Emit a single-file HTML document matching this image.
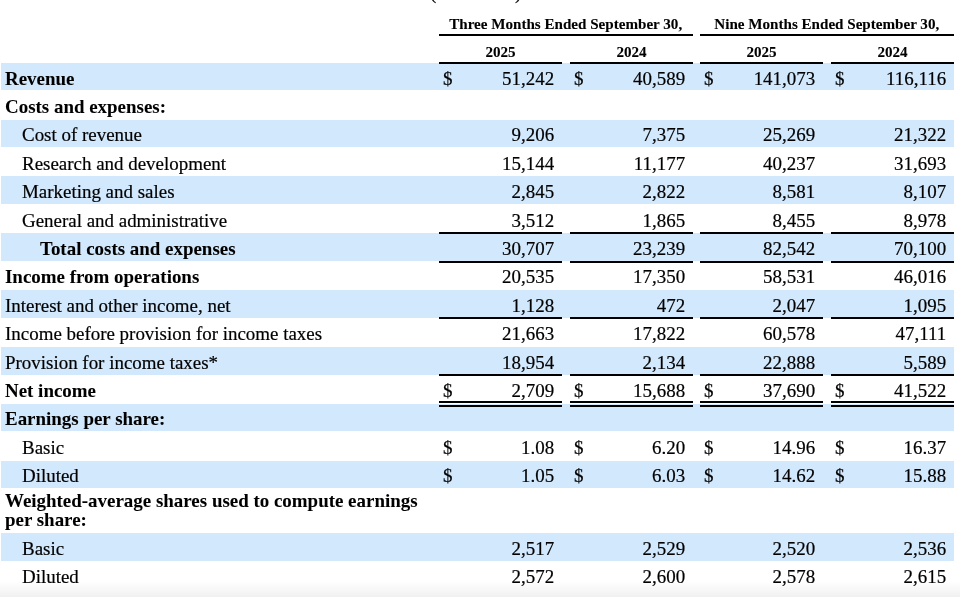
<!DOCTYPE html>
<html><head><meta charset="utf-8"><style>
html,body{margin:0;padding:0;background:#fff;}
body{width:960px;height:597px;position:relative;overflow:hidden;font-family:"Liberation Serif",serif;color:#000;}
.t{will-change:transform;-webkit-text-stroke:0.2px #000;position:absolute;white-space:nowrap;font-size:18.95px;line-height:20px;height:20px;}
.b{font-weight:bold;-webkit-text-stroke:0.05px #000;}
.r{text-align:right;}
.c{text-align:center;}
.band{position:absolute;background:#d2e8fc;}
.ln{position:absolute;background:#000;}
.h{will-change:transform;-webkit-text-stroke:0.1px #000;position:absolute;white-space:nowrap;font-size:15.1px;line-height:18px;height:18px;font-weight:bold;text-align:center;}
</style></head><body>

<div class="band" style="left:1px;top:62.8px;width:953px;height:27.5px"></div>
<div class="band" style="left:1px;top:119.64px;width:953px;height:27.5px"></div>
<div class="band" style="left:1px;top:176.48px;width:953px;height:27.5px"></div>
<div class="band" style="left:1px;top:233.32px;width:953px;height:27.5px"></div>
<div class="band" style="left:1px;top:290.16px;width:953px;height:27.5px"></div>
<div class="band" style="left:1px;top:347px;width:953px;height:27.5px"></div>
<div class="band" style="left:1px;top:403.84px;width:953px;height:27.5px"></div>
<div class="band" style="left:1px;top:460.68px;width:953px;height:27.5px"></div>
<div class="band" style="left:1px;top:532.8px;width:953px;height:27.8px"></div>
<div class="h" style="left:439.2px;width:253.4px;top:14.5px">Three Months Ended September 30,</div>
<div class="ln" style="left:439.2px;width:253.4px;top:33.5px;height:2px"></div>
<div class="h" style="left:700.2px;width:253.55px;top:14.5px">Nine Months Ended September 30,</div>
<div class="ln" style="left:700.2px;width:253.55px;top:33.5px;height:2px"></div>
<div class="h" style="left:439.2px;width:123px;top:42.7px">2025</div>
<div class="ln" style="left:439.2px;width:123px;top:62px;height:2px"></div>
<div class="h" style="left:569.7px;width:123px;top:42.7px">2024</div>
<div class="ln" style="left:569.7px;width:123px;top:62px;height:2px"></div>
<div class="h" style="left:700.2px;width:123px;top:42.7px">2025</div>
<div class="ln" style="left:700.2px;width:123px;top:62px;height:2px"></div>
<div class="h" style="left:830.5px;width:123px;top:42.7px">2024</div>
<div class="ln" style="left:830.5px;width:123px;top:62px;height:2px"></div>
<div class="t b" style="left:5px;top:68.7px">Revenue</div>
<div class="t" style="left:443.3px;top:68.7px">$</div>
<div class="t r" style="left:439.2px;width:115.2px;top:68.7px">51,242</div>
<div class="t" style="left:573.8px;top:68.7px">$</div>
<div class="t r" style="left:569.7px;width:115.2px;top:68.7px">40,589</div>
<div class="t" style="left:704.3px;top:68.7px">$</div>
<div class="t r" style="left:700.2px;width:115.2px;top:68.7px">141,073</div>
<div class="t" style="left:834.6px;top:68.7px">$</div>
<div class="t r" style="left:830.5px;width:115.2px;top:68.7px">116,116</div>
<div class="t b" style="left:5px;top:97.08px">Costs and expenses:</div>
<div class="t" style="left:22.4px;top:125.46px">Cost of revenue</div>
<div class="t r" style="left:439.2px;width:115.2px;top:125.46px">9,206</div>
<div class="t r" style="left:569.7px;width:115.2px;top:125.46px">7,375</div>
<div class="t r" style="left:700.2px;width:115.2px;top:125.46px">25,269</div>
<div class="t r" style="left:830.5px;width:115.2px;top:125.46px">21,322</div>
<div class="t" style="left:22.4px;top:153.84px">Research and development</div>
<div class="t r" style="left:439.2px;width:115.2px;top:153.84px">15,144</div>
<div class="t r" style="left:569.7px;width:115.2px;top:153.84px">11,177</div>
<div class="t r" style="left:700.2px;width:115.2px;top:153.84px">40,237</div>
<div class="t r" style="left:830.5px;width:115.2px;top:153.84px">31,693</div>
<div class="t" style="left:22.4px;top:182.22px">Marketing and sales</div>
<div class="t r" style="left:439.2px;width:115.2px;top:182.22px">2,845</div>
<div class="t r" style="left:569.7px;width:115.2px;top:182.22px">2,822</div>
<div class="t r" style="left:700.2px;width:115.2px;top:182.22px">8,581</div>
<div class="t r" style="left:830.5px;width:115.2px;top:182.22px">8,107</div>
<div class="t" style="left:22.4px;top:210.6px">General and administrative</div>
<div class="t r" style="left:439.2px;width:115.2px;top:210.6px">3,512</div>
<div class="t r" style="left:569.7px;width:115.2px;top:210.6px">1,865</div>
<div class="t r" style="left:700.2px;width:115.2px;top:210.6px">8,455</div>
<div class="t r" style="left:830.5px;width:115.2px;top:210.6px">8,978</div>
<div class="ln" style="left:439.2px;width:123px;top:232.18px;height:2px"></div>
<div class="ln" style="left:569.7px;width:123px;top:232.18px;height:2px"></div>
<div class="ln" style="left:700.2px;width:123px;top:232.18px;height:2px"></div>
<div class="ln" style="left:830.5px;width:123px;top:232.18px;height:2px"></div>
<div class="t b" style="left:40px;top:238.98px">Total costs and expenses</div>
<div class="t r" style="left:439.2px;width:115.2px;top:238.98px">30,707</div>
<div class="t r" style="left:569.7px;width:115.2px;top:238.98px">23,239</div>
<div class="t r" style="left:700.2px;width:115.2px;top:238.98px">82,542</div>
<div class="t r" style="left:830.5px;width:115.2px;top:238.98px">70,100</div>
<div class="ln" style="left:439.2px;width:123px;top:260.56px;height:2px"></div>
<div class="ln" style="left:569.7px;width:123px;top:260.56px;height:2px"></div>
<div class="ln" style="left:700.2px;width:123px;top:260.56px;height:2px"></div>
<div class="ln" style="left:830.5px;width:123px;top:260.56px;height:2px"></div>
<div class="t b" style="left:5px;top:267.36px">Income from operations</div>
<div class="t r" style="left:439.2px;width:115.2px;top:267.36px">20,535</div>
<div class="t r" style="left:569.7px;width:115.2px;top:267.36px">17,350</div>
<div class="t r" style="left:700.2px;width:115.2px;top:267.36px">58,531</div>
<div class="t r" style="left:830.5px;width:115.2px;top:267.36px">46,016</div>
<div class="t" style="left:5px;top:295.74px">Interest and other income, net</div>
<div class="t r" style="left:439.2px;width:115.2px;top:295.74px">1,128</div>
<div class="t r" style="left:569.7px;width:115.2px;top:295.74px">472</div>
<div class="t r" style="left:700.2px;width:115.2px;top:295.74px">2,047</div>
<div class="t r" style="left:830.5px;width:115.2px;top:295.74px">1,095</div>
<div class="ln" style="left:439.2px;width:123px;top:317.32px;height:2px"></div>
<div class="ln" style="left:569.7px;width:123px;top:317.32px;height:2px"></div>
<div class="ln" style="left:700.2px;width:123px;top:317.32px;height:2px"></div>
<div class="ln" style="left:830.5px;width:123px;top:317.32px;height:2px"></div>
<div class="t" style="left:5px;top:324.12px">Income before provision for income taxes</div>
<div class="t r" style="left:439.2px;width:115.2px;top:324.12px">21,663</div>
<div class="t r" style="left:569.7px;width:115.2px;top:324.12px">17,822</div>
<div class="t r" style="left:700.2px;width:115.2px;top:324.12px">60,578</div>
<div class="t r" style="left:830.5px;width:115.2px;top:324.12px">47,111</div>
<div class="t" style="left:5px;top:352.5px">Provision for income taxes*</div>
<div class="t r" style="left:439.2px;width:115.2px;top:352.5px">18,954</div>
<div class="t r" style="left:569.7px;width:115.2px;top:352.5px">2,134</div>
<div class="t r" style="left:700.2px;width:115.2px;top:352.5px">22,888</div>
<div class="t r" style="left:830.5px;width:115.2px;top:352.5px">5,589</div>
<div class="ln" style="left:439.2px;width:123px;top:374.08px;height:2px"></div>
<div class="ln" style="left:569.7px;width:123px;top:374.08px;height:2px"></div>
<div class="ln" style="left:700.2px;width:123px;top:374.08px;height:2px"></div>
<div class="ln" style="left:830.5px;width:123px;top:374.08px;height:2px"></div>
<div class="t b" style="left:5px;top:380.88px">Net income</div>
<div class="t" style="left:443.3px;top:380.88px">$</div>
<div class="t r" style="left:439.2px;width:115.2px;top:380.88px">2,709</div>
<div class="t" style="left:573.8px;top:380.88px">$</div>
<div class="t r" style="left:569.7px;width:115.2px;top:380.88px">15,688</div>
<div class="t" style="left:704.3px;top:380.88px">$</div>
<div class="t r" style="left:700.2px;width:115.2px;top:380.88px">37,690</div>
<div class="t" style="left:834.6px;top:380.88px">$</div>
<div class="t r" style="left:830.5px;width:115.2px;top:380.88px">41,522</div>
<div class="ln" style="left:439.2px;width:123px;top:401.01px;height:1.5px"></div>
<div class="ln" style="left:439.2px;width:123px;top:405px;height:2px"></div>
<div class="ln" style="left:569.7px;width:123px;top:401.01px;height:1.5px"></div>
<div class="ln" style="left:569.7px;width:123px;top:405px;height:2px"></div>
<div class="ln" style="left:700.2px;width:123px;top:401.01px;height:1.5px"></div>
<div class="ln" style="left:700.2px;width:123px;top:405px;height:2px"></div>
<div class="ln" style="left:830.5px;width:123px;top:401.01px;height:1.5px"></div>
<div class="ln" style="left:830.5px;width:123px;top:405px;height:2px"></div>
<div class="t b" style="left:5px;top:409.26px">Earnings per share:</div>
<div class="t" style="left:22.4px;top:437.64px">Basic</div>
<div class="t" style="left:443.3px;top:437.64px">$</div>
<div class="t r" style="left:439.2px;width:115.2px;top:437.64px">1.08</div>
<div class="t" style="left:573.8px;top:437.64px">$</div>
<div class="t r" style="left:569.7px;width:115.2px;top:437.64px">6.20</div>
<div class="t" style="left:704.3px;top:437.64px">$</div>
<div class="t r" style="left:700.2px;width:115.2px;top:437.64px">14.96</div>
<div class="t" style="left:834.6px;top:437.64px">$</div>
<div class="t r" style="left:830.5px;width:115.2px;top:437.64px">16.37</div>
<div class="t" style="left:22.4px;top:466.02px">Diluted</div>
<div class="t" style="left:443.3px;top:466.02px">$</div>
<div class="t r" style="left:439.2px;width:115.2px;top:466.02px">1.05</div>
<div class="t" style="left:573.8px;top:466.02px">$</div>
<div class="t r" style="left:569.7px;width:115.2px;top:466.02px">6.03</div>
<div class="t" style="left:704.3px;top:466.02px">$</div>
<div class="t r" style="left:700.2px;width:115.2px;top:466.02px">14.62</div>
<div class="t" style="left:834.6px;top:466.02px">$</div>
<div class="t r" style="left:830.5px;width:115.2px;top:466.02px">15.88</div>
<div class="t b" style="left:5px;top:491.4px">Weighted-average shares used to compute earnings</div>
<div class="t b" style="left:5px;top:510.3px">per share:</div>
<div class="t" style="left:22.4px;top:538.7px">Basic</div>
<div class="t r" style="left:439.2px;width:115.2px;top:538.7px">2,517</div>
<div class="t r" style="left:569.7px;width:115.2px;top:538.7px">2,529</div>
<div class="t r" style="left:700.2px;width:115.2px;top:538.7px">2,520</div>
<div class="t r" style="left:830.5px;width:115.2px;top:538.7px">2,536</div>
<div class="t" style="left:22.4px;top:567.08px">Diluted</div>
<div class="t r" style="left:439.2px;width:115.2px;top:567.08px">2,572</div>
<div class="t r" style="left:569.7px;width:115.2px;top:567.08px">2,600</div>
<div class="t r" style="left:700.2px;width:115.2px;top:567.08px">2,578</div>
<div class="t r" style="left:830.5px;width:115.2px;top:567.08px">2,615</div>
<div class="t" style="left:429.5px;top:-17.4px">(</div>
<div class="t" style="left:515px;top:-17.4px">)</div>
<div style="position:absolute;left:0;top:581px;width:960px;height:16px;background:linear-gradient(to bottom,rgba(0,0,0,0),rgba(0,0,0,0.055))"></div>
</body></html>
